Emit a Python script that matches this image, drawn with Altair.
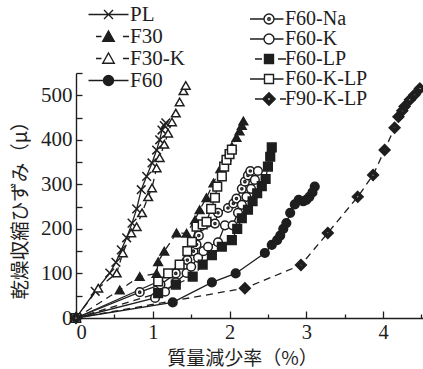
import altair as alt
import pandas as pd

series_names = ["PL", "F30", "F30-K", "F60", "F60-Na", "F60-K", "F60-LP", "F60-K-LP", "F90-K-LP"]
left_names = ["PL", "F30", "F30-K", "F60"]
right_names = ["F60-Na", "F60-K", "F60-LP", "F60-K-LP", "F90-K-LP"]

pl_x = [0, 0.25, 0.44, 0.52, 0.59, 0.66, 0.73, 0.79, 0.85, 0.92, 0.99, 1.05, 1.09, 1.12, 1.15, 1.17]
pl_y = [0, 60, 101, 125, 153, 180, 213, 245, 288, 318, 348, 377, 400, 422, 432, 438]
f30_x = [0, 0.57, 0.83, 1.05, 1.07, 1.15, 1.31, 1.44, 1.55, 1.61, 1.7, 1.79, 1.88, 1.96, 2.03, 2.09, 2.13, 2.16, 2.18]
f30_y = [0, 63, 93, 100, 126, 150, 191, 190, 220, 243, 270, 303, 335, 362, 385, 405, 420, 432, 442]
f30k_x = [0, 0.29, 0.53, 0.61, 0.72, 0.79, 0.86, 0.94, 0.99, 1.05, 1.09, 1.15, 1.2, 1.25, 1.3, 1.35, 1.4, 1.43]
f30k_y = [0, 67, 101, 146, 191, 205, 236, 272, 292, 337, 360, 390, 415, 440, 460, 485, 510, 522]
f60_x = [0, 1.26, 1.77, 2.08, 2.46, 2.55, 2.62, 2.66, 2.7, 2.74, 2.79, 2.85, 2.9, 2.96, 3.0, 3.04, 3.08, 3.11]
f60_y = [0, 35, 80, 100, 146, 164, 175, 185, 200, 213, 236, 255, 265, 262, 265, 272, 282, 295]
f60na_x = [0, 0.83, 1.1, 1.3, 1.45, 1.53, 1.57, 1.6, 1.62, 1.72, 1.81, 1.85, 1.98, 2.05, 2.09, 2.16, 2.2, 2.24, 2.27]
f60na_y = [0, 58, 75, 100, 130, 150, 165, 185, 205, 214, 212, 236, 247, 257, 268, 290, 306, 320, 330]
f60k_x = [0, 1.03, 1.16, 1.3, 1.44, 1.5, 1.59, 1.66, 1.72, 1.85, 1.94, 2.04, 2.11, 2.16, 2.22, 2.28, 2.33, 2.37]
f60k_y = [0, 45, 59, 80, 101, 115, 135, 150, 160, 170, 208, 208, 236, 254, 272, 290, 310, 330]
f60lp_x = [0, 1.07, 1.3, 1.52, 1.65, 1.77, 1.9, 2.03, 2.1, 2.16, 2.24, 2.3, 2.36, 2.42, 2.47, 2.5, 2.53, 2.55]
f60lp_y = [0, 56, 75, 93, 120, 141, 160, 175, 200, 224, 243, 262, 280, 296, 312, 340, 362, 383]
f60klp_x = [0, 1.07, 1.2, 1.35, 1.45, 1.51, 1.57, 1.65, 1.7, 1.76, 1.81, 1.84, 1.9, 1.93, 1.96, 2.0, 2.03]
f60klp_y = [0, 82, 100, 120, 150, 171, 205, 210, 216, 245, 270, 295, 318, 340, 355, 368, 378]
f90klp_x = [0, 2.2, 2.93, 3.28, 3.67, 3.87, 4.02, 4.15, 4.2, 4.25, 4.28, 4.35, 4.41, 4.48]
f90klp_y = [0, 67, 119, 191, 272, 321, 377, 427, 452, 465, 475, 490, 501, 515]

x_labels = [0, 1, 2, 3, 4]
x_minor = [0.5, 1.5, 2.5, 3.5, 4.5]
y_labels = [0, 100, 200, 300, 400, 500]
y_ticks = [0, 50, 100, 150, 200, 250, 300, 350, 400, 450, 500, 550]

all_xy = [(pl_x, pl_y), (f30_x, f30_y), (f30k_x, f30k_y), (f60_x, f60_y), (f60na_x, f60na_y),
          (f60k_x, f60k_y), (f60lp_x, f60lp_y), (f60klp_x, f60klp_y), (f90klp_x, f90klp_y)]
rows = []
for name, (xs_, ys_) in zip(series_names, all_xy):
    for i, (a, b) in enumerate(zip(xs_, ys_)):
        rows.append({"series": name, "x": a, "y": b, "idx": i})
df = pd.DataFrame(rows)

INK = "#1e1e1e"
CIRC = "M1,0A1,1 0 1,1 -1,0A1,1 0 1,1 1,0Z"
DOT = "M0.25,0A0.25,0.25 0 1,1 -0.25,0A0.25,0.25 0 1,1 0.25,0Z"
DIAM = "M0,-1.25L1.25,0L0,1.25L-1.25,0ZM0,-0.4L-0.4,0L0,0.4L0.4,0Z"
XSH = "M-1,-1L1,1M-1,1L1,-1"

plot_shapes = [XSH, "triangle-up", "triangle-up", "circle", CIRC + DOT, "circle", "square", "square", DIAM]
plot_fills = ["white", INK, "white", INK, "white", "white", INK, "white", INK]

TRI = "M0,-1.1L1.15,0.95L-1.15,0.95Z"
SQ = "M-0.9,-0.9H0.9V0.9H-0.9Z"
left_paths = [
    "M-4,0H4M-0.9,-0.9L0.9,0.9M-0.9,0.9L0.9,-0.9",
    "M-2.5,0H-1.4M2.9,0H4.1" + TRI,
    "M-2.5,0H-1.4M2.9,0H4.1" + TRI,
    "M-4,0H-1M1,0H4" + CIRC,
]
left_fills = ["white", INK, "white", INK]
right_paths = [
    "M-3.8,0H-1M1,0H2.9" + CIRC + DOT,
    "M-3.8,0H-1M1,0H2.9" + CIRC,
    "M-2.8,0H-1.4M1.8,0H3.4" + SQ,
    "M-3.8,0H-0.9M0.9,0H2.9" + SQ,
    "M-2.8,0H-1.3M2.2,0H3.4" + DIAM,
]
right_fills = ["white", "white", INK, "white", INK]

xs = alt.Scale(domain=[0, 4.52], nice=False, zero=False)
ys = alt.Scale(domain=[0, 550], nice=False, zero=False)

lab_font = "Liberation Serif"
cjk_font = "Noto Sans CJK JP"

x_main_axis = alt.Axis(values=x_labels, orient="bottom", ticks=False, grid=False, domainColor=INK,
                       domainWidth=1.4, labelFont=lab_font, labelFontSize=20.5, labelColor=INK,
                       labelPadding=4, title="質量減少率（%）", titleFont=cjk_font, titleFontSize=19,
                       titleFontWeight="normal", titleColor=INK, titleX=166, titleY=40,
                       titleBaseline="middle", titleAnchor="middle", format="d")
y_main_axis = alt.Axis(values=y_labels, orient="left", ticks=False, grid=False, domainColor=INK,
                       domainWidth=1.4, labelFont=lab_font, labelFontSize=21, labelColor=INK,
                       labelPadding=4, title="乾燥収縮ひずみ（μ）", titleFont=cjk_font, titleFontSize=19.5,
                       titleFontWeight="normal", titleColor=INK, titleX=-56, titleY=132,
                       titleBaseline="middle", titleAngle=-90, titleAnchor="middle", format="d")
x_major_ticks = alt.Axis(values=x_labels, orient="bottom", domain=False, labels=False, grid=False,
                         tickSize=7, offset=-7, tickColor=INK, tickWidth=1.3, title=None)
x_minor_ticks = alt.Axis(values=x_minor, orient="bottom", domain=False, labels=False, grid=False,
                         tickSize=4, offset=-4, tickColor=INK, tickWidth=1.3, title=None)
y_tick_axis = alt.Axis(values=y_ticks, orient="left", domain=False, labels=False, grid=False,
                       tickSize=6, offset=-6, tickColor=INK, tickWidth=1.3, title=None)

solid_set = ["PL", "F60", "F60-Na", "F60-K", "F60-K-LP"]

lines_solid = alt.Chart(df).transform_filter(
    alt.FieldOneOfPredicate(field="series", oneOf=solid_set)
).mark_line(color=INK, strokeWidth=1.3).encode(
    x=alt.X("x:Q", scale=xs, axis=x_main_axis),
    y=alt.Y("y:Q", scale=ys, axis=y_main_axis),
    detail="series:N",
    order="idx:Q",
)
lines_dashed = alt.Chart(df).transform_filter(
    alt.FieldOneOfPredicate(field="series", oneOf=[s for s in series_names if s not in solid_set])
).mark_line(color=INK, strokeWidth=1.3, strokeDash=[7, 5]).encode(
    x=alt.X("x:Q", scale=xs, axis=x_minor_ticks),
    y=alt.Y("y:Q", scale=ys, axis=y_tick_axis),
    detail="series:N",
    order="idx:Q",
)
points = alt.Chart(df).mark_point(stroke=INK, strokeWidth=1.5, opacity=1, size=75).encode(
    x=alt.X("x:Q", scale=xs, axis=x_major_ticks),
    y=alt.Y("y:Q", scale=ys, axis=None),
    shape=alt.Shape("series:N", scale=alt.Scale(domain=series_names, range=plot_shapes), legend=None),
    fill=alt.Fill("series:N", scale=alt.Scale(domain=series_names, range=plot_fills), legend=None),
)


def legend_layer(names, paths, fills, lx, ly, loff, rpad, fsize):
    leg = alt.Legend(orient="none", legendX=lx, legendY=ly, title=None, labelFont=lab_font,
                     labelFontSize=fsize, labelColor=INK, symbolSize=100, symbolStrokeWidth=1.4,
                     labelOffset=loff, rowPadding=rpad, padding=0, symbolOpacity=1)
    return alt.Chart(df).transform_filter("false").mark_point(strokeWidth=1.4, opacity=1).encode(
        shape=alt.Shape("series:N", scale=alt.Scale(domain=names, range=paths), legend=leg),
        fill=alt.Fill("series:N", scale=alt.Scale(domain=names, range=fills), legend=leg),
        stroke=alt.Stroke("series:N", scale=alt.Scale(domain=names, range=[INK] * len(names)), legend=leg),
    )


leg_left = legend_layer(left_names, left_paths, left_fills, 22, -69, 11, 0, 21)
leg_right = legend_layer(right_names, right_paths, right_fills, 183, -64, 6, 0, 20)

chart = alt.layer(lines_solid, lines_dashed, points, leg_left, leg_right).resolve_scale(
    shape="independent", fill="independent", stroke="independent"
).resolve_axis(x="independent", y="independent").properties(
    width=347, height=245,
    autosize=alt.AutoSizeParams(type="none"),
    padding={"left": 76, "top": 73, "right": 0, "bottom": 51},
    background="white",
).configure_view(stroke=None)

chart.save("out.html", embed_options={"renderer": "svg", "actions": False})
